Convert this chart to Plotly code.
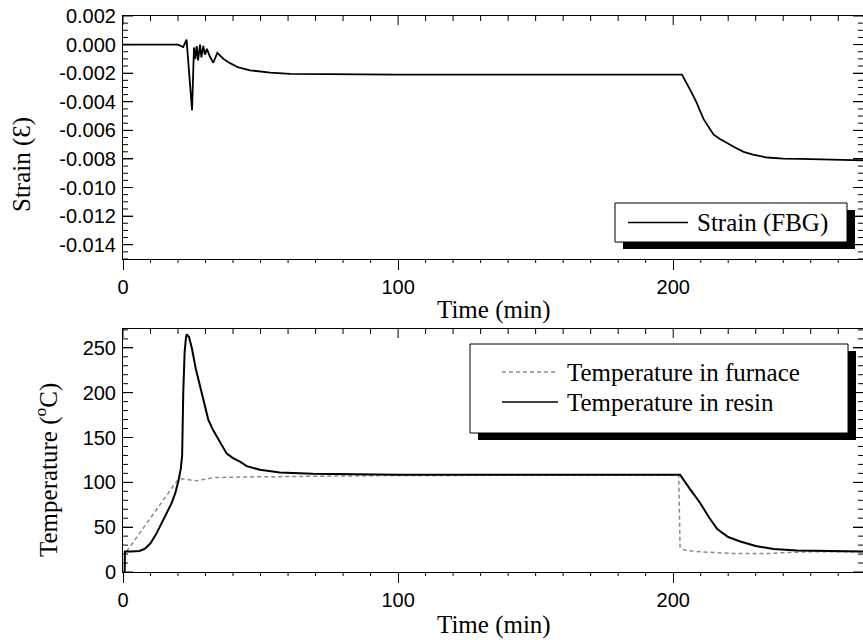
import plotly.graph_objects as go

# ---- data ----
strain_time = [0, 10, 20, 21.9, 23.1, 25.1, 25.8, 26.3, 26.8, 27.3, 28.0, 28.5, 29.2, 29.8,
               30.5, 31.5, 32.8, 34.3, 36.5, 38.9, 42, 46.2, 53.5, 60.7, 100, 150, 203.2,
               206.8, 208.6, 211, 213, 214.7, 217, 219.5, 222.5, 225.6, 229, 234, 240,
               246.2, 269]
strain_vals = [0.0, 0.0, 0.0, -0.00017, 0.00035, -0.0046, -0.0002, -0.0010, -0.0001, -0.0011,
               0.0, -0.0009, -0.0001, -0.0007, -0.0003, -0.0008, -0.00127, -0.00058, -0.0010,
               -0.0013, -0.0016, -0.0018, -0.00196, -0.00205, -0.0021, -0.0021, -0.0021,
               -0.0034, -0.0041, -0.0052, -0.0058, -0.0063, -0.0066, -0.0069, -0.0072,
               -0.0075, -0.0077, -0.0079, -0.00798, -0.0080, -0.0081]

resin_time = [0.6, 0.7, 3, 6, 8, 10, 12, 13.5, 15.5, 17.7, 19, 20.1, 21.0, 21.5, 21.9, 22.4,
              22.9, 23.2, 24, 25, 26.5, 28.3, 31, 32.8, 35.3, 37.7, 40, 42.5, 45, 49.8, 57,
              69, 100, 150, 202.5, 206, 209.8, 213, 216, 220, 224.4, 230, 236.5, 245, 255, 269]
resin_vals = [0, 23, 23, 23.5, 26, 32, 42, 51, 63, 77, 88, 101, 115, 130, 200, 245,
              262, 265, 262, 250, 226, 203, 170, 158, 144, 132, 127, 123, 118, 114, 111,
              109.5, 108.5, 108.5, 108.5, 93, 77, 61, 48, 39, 34, 29, 25.6, 24, 23.3, 23]

furnace_time = [1.3, 20, 21.5, 24, 26.5, 30, 33, 45, 57, 93, 150, 202, 202.5, 203.5, 205,
                210, 222, 234, 240, 250, 269]
furnace_vals = [23, 103, 104, 103, 101.7, 103.5, 105.3, 106, 106.5, 107.5, 108, 108, 28, 25,
                24, 22.5, 20.5, 20.5, 21.5, 22.5, 22.5]

strain_ticks = [0.002, 0.0, -0.002, -0.004, -0.006, -0.008, -0.010, -0.012, -0.014]
strain_ticktext = ["0.002", "0.000", "-0.002", "-0.004", "-0.006", "-0.008", "-0.010",
                   "-0.012", "-0.014"]

# ---- page geometry ----
W, H = 863, 640
L, R, T, B = 123, 0, 16, 68


def px(x):
    return (x - L) / (W - L - R)


def py(y):
    return (H - B - y) / (H - T - B)


SERIF = "Liberation Serif"
SANS = "Liberation Sans"

fig = go.Figure()
fig.add_trace(go.Scatter(x=strain_time, y=strain_vals, mode="lines", name="Strain (FBG)",
                         line=dict(color="black", width=1.8), xaxis="x", yaxis="y"))
fig.add_trace(go.Scatter(x=furnace_time, y=furnace_vals, mode="lines",
                         name="Temperature in furnace",
                         line=dict(color="#8a8a8a", width=1.5, dash="4px,3px"),
                         xaxis="x2", yaxis="y2"))
fig.add_trace(go.Scatter(x=resin_time, y=resin_vals, mode="lines",
                         name="Temperature in resin",
                         line=dict(color="black", width=2), xaxis="x2", yaxis="y2"))

xrange = [0, 269]
tickfont = dict(family=SANS, size=20, color="black")

xopts = dict(range=xrange, tickmode="linear", tick0=0, dtick=100, ticks="outside",
             ticklen=10, tickwidth=1, tickcolor="black", showline=True, linecolor="black",
             linewidth=1, mirror=True, showgrid=False, zeroline=False, tickfont=tickfont,
             automargin=False)
yopts = dict(ticks="inside", ticklen=10, tickwidth=1, tickcolor="black", showline=True,
             linecolor="black", linewidth=1, mirror="allticks", showgrid=False,
             zeroline=False, tickfont=tickfont, automargin=False, ticklabelstandoff=2)

fig.update_layout(
    width=W, height=H,
    margin=dict(l=L, r=R, t=T, b=B, autoexpand=False),
    paper_bgcolor="white", plot_bgcolor="white",
    showlegend=False,
    xaxis=dict(domain=[0, 1], anchor="y", **xopts),
    xaxis2=dict(domain=[0, 1], anchor="y2", **xopts),
    yaxis=dict(domain=[py(259), 1], anchor="x", range=[-0.015, 0.002],
               tickvals=strain_ticks, ticktext=strain_ticktext, **yopts),
    yaxis2=dict(domain=[0, py(329)], anchor="x2", range=[0, 271], tickmode="linear",
                tick0=0, dtick=50, **yopts),
)

# ---- tick marks drawn as pixel-sized shapes anchored to the axes ----
tick_line = dict(color="black", width=1)


def xtick(xref, yref, v, edge, length):
    fig.add_shape(type="line", xref=xref, yref=yref + " domain", ysizemode="pixel",
                  yanchor=edge, x0=v, x1=v, y0=0, y1=length, line=tick_line,
                  layer="above")


def ytick(xref, yref, v, edge, length):
    fig.add_shape(type="line", xref=xref + " domain", yref=yref, xsizemode="pixel",
                  xanchor=edge, x0=0, x1=length, y0=v, y1=v, line=tick_line,
                  layer="above")


for xr, yr in (("x", "y"), ("x2", "y2")):
    for i in range(0, 27):
        v = i * 10
        major = v % 100 == 0
        if not major:
            xtick(xr, yr, v, 0, -4)             # bottom, outside
        xtick(xr, yr, v, 1, -9 if major else -5)  # top, inside

for i in range(0, 35):
    v = round(-0.015 + i * 0.0005, 5)
    major = abs(round(v / 0.002) * 0.002 - v) < 1e-9
    ln = 10 if major else 5
    ytick("x", "y", v, 0, ln)
    ytick("x", "y", v, 1, -ln)

for i in range(0, 28):
    v = i * 10
    ln = 10 if v % 50 == 0 else 5
    ytick("x2", "y2", v, 0, ln)
    ytick("x2", "y2", v, 1, -ln)

titlefont = dict(family=SERIF, size=25, color="black")
annotations = [
    dict(text="Strain (Ɛ)", x=px(22), y=py(165), textangle=-90),
    dict(text="Temperature (<sup>o</sup>C)", x=px(46), y=py(470), textangle=-90),
    dict(text="Time (min)", x=px(494), y=py(310)),
    dict(text="Time (min)", x=px(494), y=py(625)),
]
for a in annotations:
    fig.add_annotation(xref="paper", yref="paper", showarrow=False, font=titlefont,
                       xanchor="center", yanchor="middle", **a)


# ---- hand-drawn legends with drop shadow ----
def legend_box(x0, y0, x1, y1, off=8):
    fig.add_shape(type="rect", xref="paper", yref="paper", layer="above",
                  x0=px(x0 + off), x1=px(x1 + off), y0=py(y0 + off - 1), y1=py(y1 + off - 1),
                  fillcolor="black", line=dict(width=0))
    fig.add_shape(type="rect", xref="paper", yref="paper", layer="above",
                  x0=px(x0), x1=px(x1), y0=py(y0), y1=py(y1),
                  fillcolor="white", line=dict(color="black", width=1))


def legend_item(x0, x1, y, text, line):
    fig.add_shape(type="line", xref="paper", yref="paper", layer="above",
                  x0=px(x0), x1=px(x1), y0=py(y), y1=py(y), line=line)
    fig.add_annotation(xref="paper", yref="paper", showarrow=False, text=text,
                       font=titlefont, x=px(x1 + 7), y=py(y), xanchor="left",
                       yanchor="middle")


legend_box(615, 203, 847, 242)
legend_item(628, 688, 222.5, "Strain (FBG)", dict(color="black", width=1.3))

legend_box(470, 344, 848, 433)
legend_item(502, 558, 372, "Temperature in furnace",
            dict(color="#8a8a8a", width=1.3, dash="4px,3px"))
legend_item(502, 558, 402, "Temperature in resin", dict(color="black", width=1.3))

# page body has a default 8px margin; drop it so the figure sits at the corner
fig.write_html("out.html", config={"displayModeBar": False},
               post_script="document.body.style.margin='0';")
